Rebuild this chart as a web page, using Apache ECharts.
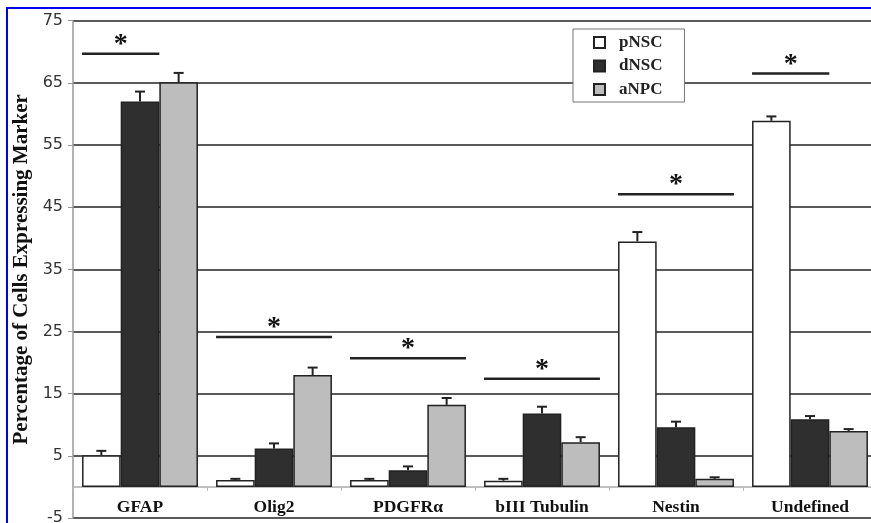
<!DOCTYPE html>
<html>
<head>
<meta charset="utf-8">
<script src="https://cdn.jsdelivr.net/npm/echarts@6/dist/echarts.min.js"></script>
<style>html,body{margin:0;padding:0;background:#fff}#c{width:871px;height:523px}</style>
</head>
<body>
<div id="c"></div>
<script>
const categories = ['GFAP', 'Olig2', 'PDGFR\u03b1', 'bIII Tubulin', 'Nestin', 'Undefined'];
const seriesNames = ['pNSC', 'dNSC', 'aNPC'];
const pNSC = [5.1, 1.1, 1.1, 1.0, 39.5, 58.9];
const dNSC = [62.0, 6.2, 2.7, 11.8, 9.6, 10.9];
const aNPC = [65.1, 18.0, 13.2, 7.2, 1.3, 9.0];
const pNSCErr = [5.8, 1.3, 1.3, 1.3, 41.0, 59.6];
const dNSCErr = [63.6, 7.0, 3.3, 12.9, 10.5, 11.4];
const aNPCErr = [66.6, 19.2, 14.3, 8.0, 1.55, 9.3];
// significance bars: y value, first and last bar index spanned
const sigValue = [69.7, 24.1, 20.7, 17.4, 47.1, 66.5];
const sigFrom = [0, 0, 0, 0, 0, 0];
const sigTo = [1, 2, 2, 2, 2, 1];
const yTicks = { min: -5, max: 75, interval: 10 };

const CAT_GAP = 0.135;
const colors = ['#ffffff', '#2f2f2f', '#bdbdbd'];

function barW(api) {
  return api.size([1, 0])[0] * (1 - CAT_GAP) / 3;
}

function errSeries(idx, tops, vals) {
  return {
    type: 'custom',
    name: seriesNames[idx] + ' err',
    z: 5,
    data: tops.map((t, i) => [i, vals[i], t]),
    renderItem: function (params, api) {
      const w = barW(api);
      const base = api.coord([api.value(0), api.value(1)]);
      const top = api.coord([api.value(0), api.value(2)]);
      const x = base[0] + (idx - 1) * w;
      const style = { stroke: '#222', lineWidth: 2 };
      return {
        type: 'group',
        children: [
          { type: 'line', shape: { x1: x, y1: base[1], x2: x, y2: top[1] }, style: style },
          { type: 'line', shape: { x1: x - 5, y1: top[1], x2: x + 5, y2: top[1] }, style: style }
        ]
      };
    }
  };
}

const chart = echarts.init(document.getElementById('c'));
chart.setOption({
  backgroundColor: '#fff',
  animation: false,
  grid: { left: 73, right: -6, top: 20.7, bottom: 5, outerBoundsMode: 'none', containLabel: false },
  legend: {
    data: seriesNames,
    orient: 'vertical',
    left: 573, top: 29,
    backgroundColor: '#fff',
    borderColor: '#777', borderWidth: 1, borderRadius: 0,
    padding: [5, 22, 4, 20],
    icon: 'rect',
    itemWidth: 11, itemHeight: 11, itemGap: 6.5,
    textStyle: { fontFamily: 'Liberation Serif', fontWeight: 'bold', fontSize: 17, color: '#222', lineHeight: 17, padding: [0, 0, 0, 9] }
  },
  xAxis: {
    type: 'category',
    data: categories,
    axisLine: { onZero: true, lineStyle: { color: '#aaa', width: 1.5 } },
    axisTick: { show: true, length: 4, lineStyle: { color: '#bbb' } },
    axisLabel: { fontFamily: 'Liberation Serif', fontWeight: 'bold', fontSize: 17.5, color: '#111', margin: -20, hideOverlap: false },
    splitLine: { show: false }
  },
  yAxis: {
    type: 'value',
    min: yTicks.min, max: yTicks.max, interval: yTicks.interval,
    name: 'Percentage of Cells Expressing Marker',
    nameLocation: 'middle', nameRotate: 90, nameGap: 39,
    nameTextStyle: { fontFamily: 'Liberation Serif', fontWeight: 'bold', fontSize: 21, color: '#111' },
    axisLine: { show: true, lineStyle: { color: '#999', width: 1.5 } },
    axisTick: { show: true, length: 5, lineStyle: { color: '#999' } },
    axisLabel: { fontFamily: 'DejaVu Sans', fontSize: 16, color: '#333', margin: 10 },
    splitLine: { show: true, lineStyle: { color: '#5a5a5a', width: 2 } }
  },
  graphic: [
    { type: 'rect', shape: { x: 6, y: 7, width: 871, height: 2 }, style: { fill: '#0000ee' }, z: 100 },
    { type: 'rect', shape: { x: 6, y: 7, width: 2, height: 523 }, style: { fill: '#0000ee' }, z: 100 }
  ],
  series: [
    { type: 'bar', name: 'pNSC', data: pNSC, barGap: '0%', barCategoryGap: (CAT_GAP * 100) + '%',
      itemStyle: { color: colors[0], borderColor: '#222', borderWidth: 1.5 } },
    { type: 'bar', name: 'dNSC', data: dNSC,
      itemStyle: { color: colors[1], borderColor: '#222', borderWidth: 1.5 } },
    { type: 'bar', name: 'aNPC', data: aNPC,
      itemStyle: { color: colors[2], borderColor: '#222', borderWidth: 1.5 } },
    errSeries(0, pNSCErr, pNSC),
    errSeries(1, dNSCErr, dNSC),
    errSeries(2, aNPCErr, aNPC),
    {
      type: 'custom',
      name: 'sig',
      z: 6,
      data: sigValue.map((v, i) => [i, v, sigFrom[i], sigTo[i]]),
      renderItem: function (params, api) {
        const w = barW(api);
        const c = api.coord([api.value(0), api.value(1)]);
        const x1 = c[0] + (api.value(2) - 1.5) * w;
        const x2 = c[0] + (api.value(3) - 0.5) * w;
        return {
          type: 'group',
          children: [
            { type: 'line', shape: { x1: x1, y1: c[1], x2: x2, y2: c[1] }, style: { stroke: '#222', lineWidth: 2.5 } },
            { type: 'text', style: { text: '*', x: (x1 + x2) / 2, y: c[1] - 9, align: 'center', verticalAlign: 'middle',
              font: 'bold 28px "Liberation Serif"', fill: '#111' } }
          ]
        };
      }
    }
  ]
});
</script>
</body>
</html>
